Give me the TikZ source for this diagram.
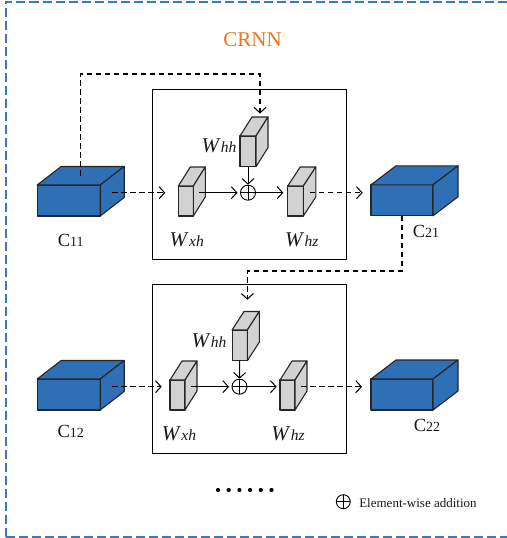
\documentclass[tikz,border=0pt]{standalone}
\usepackage{fontspec}
\setmainfont{Liberation Serif}
\usetikzlibrary{arrows.meta,calc}
\definecolor{cubeblue}{HTML}{2F6FB6}
\definecolor{frameblue}{HTML}{3A78C0}
\definecolor{crnnorange}{HTML}{E8761E}
\definecolor{cubegrey}{HTML}{D2D2D2}
\tikzset{
  bluecube/.style={draw=black!85, fill=cubeblue, line width=1.1pt, line join=round},
  greycube/.style={draw=black!85, fill=cubegrey, line width=1.1pt, line join=round},
  conn/.style={line width=1pt, -{Straight Barb[length=5.5pt,width=12pt]}},
  dconn/.style={conn, line width=1.05pt, dash pattern=on 5.5pt off 3.5pt},
  cellbox/.style={draw, line width=1pt, inner sep=0pt, outer sep=0pt},
  addnode/.style={circle, draw, line width=0.9pt, minimum size=15pt, inner sep=0pt, outer sep=0pt},
  lbl/.style={inner sep=0pt, outer sep=0pt, text=black!90},
}
\newcommand\mkcube[8]{%
  \node[#8, minimum width=#4, minimum height=#5, inner sep=0pt, outer sep=0pt] (#1) at (#2,#3) {};
  \draw[#8] (#1.north west) -- ++(#6,#7) -- ++(#4,0) -- (#1.north east) -- cycle;
  \draw[#8] (#1.north east) -- ++(#6,#7) -- ++(0,#5) -- (#1.south east) -- cycle;
  \coordinate (#1s) at ($(#1.east)+(#6/2,#7/2)$);
  \coordinate (#1t) at ($(#1.north)+(#6/2,#7/2)$);
  \coordinate (#1b) at ($(#1.north)+(#6,#7)$);
}
\newcommand\Clab[2]{{\fontsize{18.5}{19}\selectfont C}{\fontsize{14}{14}\selectfont #1#2}}
\newcommand\Wlab[1]{{\fontsize{21}{21}\selectfont\itshape W}\kern2pt{\fontsize{15.5}{16}\selectfont\itshape #1}}
\begin{document}
\begin{tikzpicture}[x=1pt,y=-1pt]
\useasboundingbox (0,0) rectangle (506,538);
% outer frame
\draw[frameblue, line width=2pt, dash pattern=on 9pt off 4pt] (5.5,536.5) -- (5.5,1.5) -- (515,1.5);
\draw[frameblue, line width=2pt, dash pattern=on 9pt off 4pt] (5.5,536.5) -- (515,536.5);
\node[lbl, text=crnnorange, font=\fontsize{21}{21}\selectfont] (title) at (252.5,40) {CRNN};
% cell boxes
\node[cellbox, minimum width=193.7, minimum height=170] (cell1) at (249.2,174.3) {};
\node[cellbox, minimum width=193.7, minimum height=169.3] (cell2) at (249.2,368.7) {};
% cubes
\mkcube{c11}{68.7}{200.5}{63}{31}{24}{-18.5}{bluecube}
\mkcube{c21}{402}{200.3}{62}{31}{25}{-19}{bluecube}
\mkcube{c12}{68.7}{394.5}{63}{31}{24}{-18.5}{bluecube}
\mkcube{c22}{402}{394.5}{62}{31}{25}{-19}{bluecube}
\mkcube{wxh1}{185.8}{201}{15}{30}{12}{-19}{greycube}
\mkcube{whh1}{248}{151.3}{16}{30.7}{12}{-19}{greycube}
\mkcube{whz1}{295.5}{201}{15.6}{30}{12.5}{-19}{greycube}
\mkcube{wxh2}{177.5}{395}{15}{30}{12}{-19}{greycube}
\mkcube{whh2}{239.7}{345.3}{15.3}{30.7}{12}{-18.5}{greycube}
\mkcube{whz2}{287.5}{395}{15}{30}{12}{-19}{greycube}
% addition nodes
\node[addnode] (add1) at (248,192.7) {};
\draw[line width=0.9pt] (add1.north) -- (add1.south) (add1.west) -- (add1.east);
\node[addnode] (add2) at (239.5,386.7) {};
\draw[line width=0.9pt] (add2.north) -- (add2.south) (add2.west) -- (add2.east);
% labels
\node[lbl] (lc11) at (70.8,240.8) {\Clab{1}{1}};
\node[lbl] (lc21) at (426,231) {\Clab{2}{1}};
\node[lbl] (lc12) at (70.8,431.5) {\Clab{1}{2}};
\node[lbl] (lc22) at (427,425) {\Clab{2}{2}};
\node[lbl] (lwxh1) at (186.7,240) {\Wlab{xh}};
\node[lbl] (lwhz1) at (301.7,240) {\Wlab{hz}};
\node[lbl] (lwhh1) at (219,146) {\Wlab{hh}};
\node[lbl] (lwxh2) at (179,434) {\Wlab{xh}};
\node[lbl] (lwhz2) at (288,434) {\Wlab{hz}};
\node[lbl] (lwhh2) at (209,340.5) {\Wlab{hh}};
% row 1 connectors
\coordinate (r1) at (0,74);
\coordinate (r2) at (0,271);
\draw[dconn, shorten >=13pt] (c11s |- add1) -- (wxh1.west |- add1);
\draw[conn, shorten >=3pt] (wxh1s |- add1) -- (add1.west);
\draw[conn, shorten >=4.4pt] (add1.east) -- (whz1.west |- add1);
\draw[dconn, shorten >=8.3pt] (whz1s |- add1) -- (c21.west |- add1);
\draw[conn, shorten >=0.5pt] (whh1.south) -- (add1.north);
\draw[dconn, shorten >=3.4pt] (c11t) -- (c11t |- r1) -| (whh1b);
% row 2 connectors
\draw[dconn, shorten >=8.3pt] (c12s |- add2) -- (wxh2.west |- add2);
\draw[conn, shorten >=3pt] (wxh2s |- add2) -- (add2.west);
\draw[conn, shorten >=3.3pt] (add2.east) -- (whz2.west |- add2);
\draw[dconn, shorten >=9pt] (whz2s |- add2) -- (c22.west |- add2);
\draw[conn, shorten >=0.5pt] (whh2.south) -- (add2.north);
\draw[dconn, shorten >=11.7pt] (c21.south) -- (c21.south |- r2) -| ([xshift=-4.3pt]whh2b);
% dots
\foreach \i in {0,...,5} \fill (218+\i*10.7,490) circle (2.1);
% legend
\node[addnode, minimum size=14pt] (legplus) at (343.3,501.7) {};
\draw[line width=0.9pt] (legplus.north) -- (legplus.south) (legplus.west) -- (legplus.east);
\node[lbl, anchor=base west, font=\fontsize{13}{13}\selectfont] (legtext) at (359.3,507.3) {Element-wise addition};
\end{tikzpicture}
\end{document}
